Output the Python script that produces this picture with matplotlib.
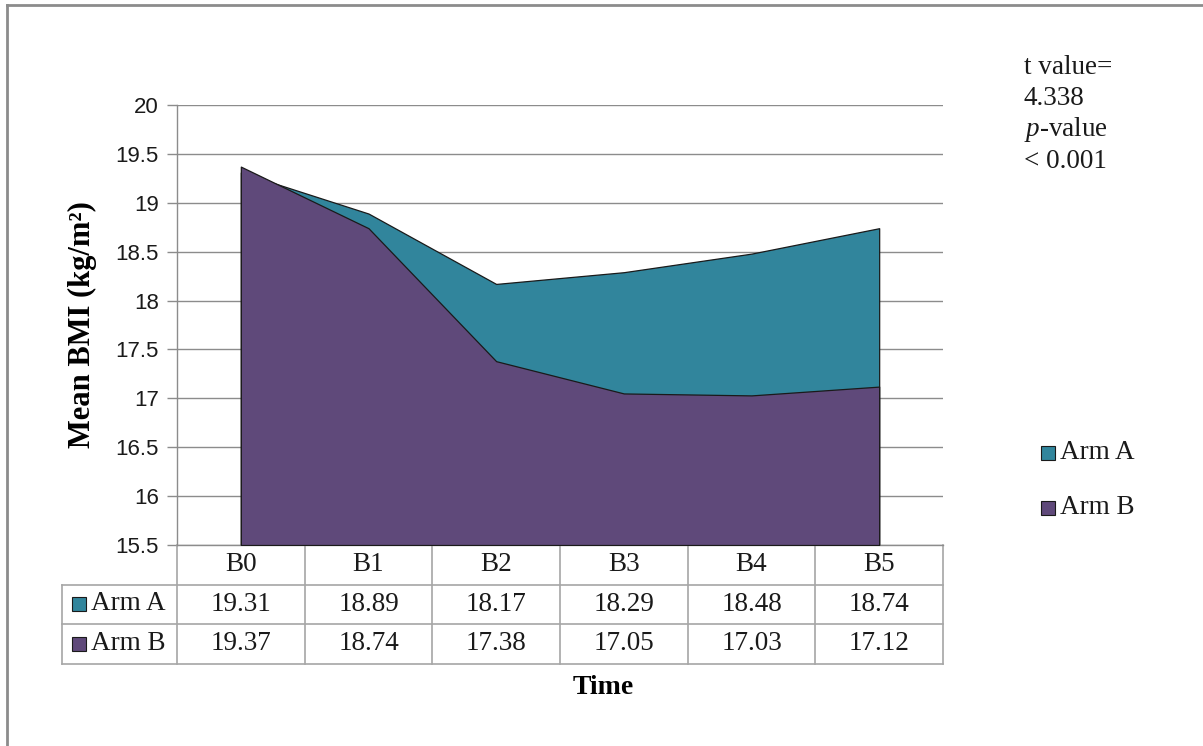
import matplotlib
matplotlib.use("Agg")
import matplotlib.pyplot as plt
import matplotlib.transforms as mtransforms
from matplotlib.lines import Line2D
from matplotlib.patches import Rectangle

# Data
categories = ["B0", "B1", "B2", "B3", "B4", "B5"]
arm_a = [19.31, 18.89, 18.17, 18.29, 18.48, 18.74]
arm_b = [19.37, 18.74, 17.38, 17.05, 17.03, 17.12]
series_names = ["Arm A", "Arm B"]
y_ticks = [15.5, 16, 16.5, 17, 17.5, 18, 18.5, 19, 19.5, 20]

# Style
COLOR_A = "#31859C"
COLOR_B = "#5F497A"
GRID = "#8C8C8C"
SERIF = "Liberation Serif"
SANS = "Liberation Sans"

plt.rcParams["mathtext.fontset"] = "custom"
plt.rcParams["mathtext.rm"] = "Liberation Serif"
plt.rcParams["mathtext.it"] = "Liberation Serif:italic"
plt.rcParams["mathtext.bf"] = "Liberation Serif:bold"

W, H = 1203, 746
fig = plt.figure(figsize=(W / 100, H / 100), dpi=100)
ax = fig.add_axes([177 / W, 1 - 545 / H, (943 - 177) / W, (545 - 105) / H])

x = list(range(len(categories)))
ymin = y_ticks[0]
ax.fill_between(x, ymin, arm_a, facecolor=COLOR_A, edgecolor="#1a1a1a", linewidth=0.9, zorder=2)
ax.fill_between(x, ymin, arm_b, facecolor=COLOR_B, edgecolor="#1a1a1a", linewidth=0.9, zorder=3)

ax.set_xlim(-0.5, len(categories) - 0.5)
ax.set_ylim(ymin, y_ticks[-1])
ax.set_yticks(y_ticks)
ax.set_yticklabels([f"{t:g}" for t in y_ticks], fontfamily=SANS, fontsize=16, color="#1a1a1a")
ax.set_xticks([])
ax.grid(axis="y", color=GRID, linewidth=1)
ax.set_axisbelow(True)
for s in ["top", "right"]:
    ax.spines[s].set_visible(False)
for s in ["left", "bottom"]:
    ax.spines[s].set_color(GRID)
    ax.spines[s].set_linewidth(1)
ax.tick_params(axis="y", length=7, color=GRID, width=1, pad=6)

ax.set_ylabel("Mean BMI (kg/m²)", fontfamily=SERIF, fontweight="bold", fontsize=22)
ax.yaxis.set_label_coords((97 - 177) / 766, 0.5)

# Data table under the plot
trans = mtransforms.blended_transform_factory(ax.transData, ax.transAxes)
rh = 39.5 / 440
left = -0.5 - (177 - 62) / (766 / len(categories))
right = len(categories) - 0.5
tcol = "#A6A6A6"

def tline(xs, ys):
    ax.add_line(Line2D(xs, ys, transform=trans, color=tcol, linewidth=1.2, clip_on=False))

for i in range(len(categories) + 1):
    tline([i - 0.5, i - 0.5], [0, -3 * rh])
tline([left, left], [-rh, -3 * rh])
for r in (1, 2, 3):
    tline([left, right], [-r * rh, -r * rh])

for i, c in enumerate(categories):
    ax.text(i, -0.5 * rh, c, transform=trans, ha="center", va="center",
            fontfamily=SERIF, fontsize=19.5, color="#1a1a1a")
for r, (name, vals, col) in enumerate(zip(series_names, [arm_a, arm_b], [COLOR_A, COLOR_B])):
    yc = -(r + 1.5) * rh
    for i, v in enumerate(vals):
        ax.text(i, yc, f"{v:.2f}", transform=trans, ha="center", va="center",
                fontfamily=SERIF, fontsize=19.5, color="#1a1a1a")
    # legend key inside table
    kx, ky = 72 / W, 1 - (584 + r * 39.5 + 27) / H
    fig.add_artist(Rectangle((kx, ky), 14 / W, 14 / H, facecolor=col,
                             edgecolor="#1a1a1a", linewidth=0.8))
    fig.text(91 / W, 1 - (584 + r * 39.5 + 20) / H, name, ha="left", va="center",
             fontfamily=SERIF, fontsize=19.5, color="#1a1a1a")

fig.text(603 / W, 1 - 688 / H, "Time", ha="center", va="center",
         fontfamily=SERIF, fontweight="bold", fontsize=20)

# Legend on the right
for r, (name, col) in enumerate(zip(series_names, [COLOR_A, COLOR_B])):
    yc = 453 + r * 55
    fig.add_artist(Rectangle((1041 / W, 1 - (yc + 7) / H), 14 / W, 14 / H, facecolor=col,
                             edgecolor="#1a1a1a", linewidth=0.8))
    fig.text(1060 / W, 1 - yc / H, name, ha="left", va="center",
             fontfamily=SERIF, fontsize=19.5, color="#1a1a1a")

# Statistics annotation
stats_lines = ["t value=", "4.338", "$\\it{p}$-value", "< 0.001"]
for k, s in enumerate(stats_lines):
    fig.text(1024 / W, 1 - (67 + k * 31.5) / H, s, ha="left", va="center",
             fontfamily=SERIF, fontsize=19.5, color="#1a1a1a")

# Outer chart border (top and left visible)
fig.add_artist(Line2D([7 / W, 1.0], [1 - 5 / H, 1 - 5 / H], color="#8C8C8C", linewidth=2))
fig.add_artist(Line2D([7 / W, 7 / W], [0, 1 - 5 / H], color="#8C8C8C", linewidth=2))

fig.savefig("out.png", dpi=100)
